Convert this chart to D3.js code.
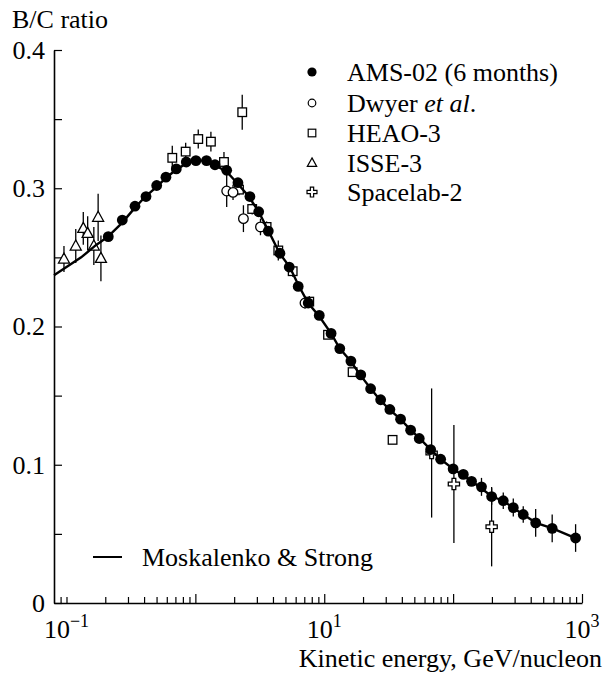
<!DOCTYPE html>
<html><head><meta charset="utf-8">
<script src="https://cdn.jsdelivr.net/npm/d3@7"></script>
<style>
body{margin:0;background:#fff;}
svg{display:block;font-family:"Liberation Serif","Times New Roman",serif;}
</style></head>
<body><svg id="c" width="607" height="673"></svg>
<script>
// AMS-02 (6 months)
const amsE = [0.211,0.271,0.340,0.414,0.501,0.591,0.711,0.850,1.01,1.22,1.42,1.75,2.14,2.65,3.10,3.68,4.53,5.35,6.28,7.51,9.15,11.3,13.2,16.1,19.2,22.9,27.4,32.3,39.1,46.8,54.6,66.9,80.0,100,120,139,166,199,245,293,350,437,587,892];
const amsV = [0.265,0.277,0.287,0.294,0.302,0.308,0.314,0.319,0.320,0.320,0.317,0.313,0.304,0.294,0.283,0.269,0.253,0.243,0.229,0.217,0.208,0.195,0.184,0.175,0.165,0.155,0.147,0.140,0.133,0.125,0.119,0.111,0.104,0.097,0.093,0.088,0.084,0.077,0.074,0.069,0.064,0.058,0.054,0.047];
const amsErr = [0,0,0,0,0,0,0,0,0,0,0,0,0,0,0,0,0,0,0,0,0,0,0,0,0,0,0,0,0,0,0,0,0,0,0,0,0.0065,0.006,0.006,0.0065,0.006,0.010,0.010,0.010];
// Dwyer et al.
const dwyE = [1.75,1.96,2.36,3.2,7.09];
const dwyV = [0.298,0.297,0.278,0.272,0.217];
const dwyErr = [0.0115,0.0055,0.0097,0.006,0.004];
// HEAO-3
const heaoE = [0.662,0.841,1.053,1.32,1.667,2.31,2.18,2.76,3.57,4.40,5.69,7.65,10.7,16.6,33.9];
const heaoV = [0.322,0.3265,0.3356,0.3337,0.319,0.355,0.299,0.285,0.272,0.255,0.240,0.218,0.194,0.167,0.118];
const heaoErr = [0.0087,0.0065,0.0069,0.0072,0.0072,0.0127,0.004,0.004,0.004,0.0072,0.004,0.004,0.003,0.003,0.003];
// ISSE-3
const isseE = [0.0956,0.118,0.135,0.146,0.163,0.176,0.185];
const isseV = [0.2488,0.2582,0.2710,0.2674,0.2582,0.2790,0.2493];
const isseErr = [0.0094,0.0123,0.0119,0.0123,0.0137,0.0171,0.0166];
// Spacelab-2
const slE = [68.1,101.4,199];
const slV = [0.1085,0.0861,0.0552];
const slErr = [0.0467,0.0427,0.0287];
// Moskalenko & Strong model
const modE = [0.08,0.1,0.13,0.17,0.21,0.27,0.34,0.41,0.5,0.6,0.7,0.85,1.0,1.2,1.4,1.75,2.1,2.6,3.1,3.7,4.5,5.4,6.3,7.5,9.2,11.3,13.2,16,19,23,27,32,39,47,55,67,80,100,120,140,165,200,245,290,350,440,590,890];
const modV = [0.237,0.243,0.250,0.259,0.265,0.275,0.286,0.294,0.301,0.308,0.313,0.318,0.320,0.320,0.317,0.312,0.304,0.294,0.283,0.269,0.253,0.243,0.230,0.217,0.207,0.195,0.184,0.175,0.165,0.155,0.147,0.140,0.133,0.125,0.119,0.111,0.104,0.097,0.092,0.088,0.083,0.077,0.074,0.069,0.064,0.058,0.054,0.047];
// axis
const xDomain = [0.08,1000];
const yDomain = [0,0.4];
const yMajor = [0,0.1,0.2,0.3,0.4];
const yMinor = [0.05,0.15,0.25,0.35];
const xLabels = [{v:0.1,b:"10",e:"\u22121"},{v:10,b:"10",e:"1"},{v:1000,b:"10",e:"3"}];
const legendItems = ["AMS-02 (6 months)","Dwyer","HEAO-3","ISSE-3","Spacelab-2"];

const svg = d3.select("#c");
const FS = 26;
const x = d3.scaleLog().domain(xDomain).range([54,582]);
const y = d3.scaleLinear().domain(yDomain).range([603,50]);

// axes
const xt = x.ticks().filter(t=>t>xDomain[0]);
const isMajor = t => Math.abs(Math.log10(t)-Math.round(Math.log10(t)))<1e-6;
const gx = svg.append("g").attr("transform","translate(0,603)")
  .call(d3.axisBottom(x).tickValues(xt).tickSizeOuter(0).tickFormat(""));
gx.selectAll(".tick line").attr("y2",d=>isMajor(d)&&d>=1?-9:-6).attr("stroke","#000").attr("stroke-width",1.2);
gx.select(".domain").attr("stroke","#000").attr("stroke-width",1.6);

const gy = svg.append("g").attr("transform","translate(54,0)")
  .call(d3.axisLeft(y).tickValues(yMajor.concat(yMinor)).tickSizeInner(-8).tickSizeOuter(0).tickPadding(9)
    .tickFormat(d=>yMajor.includes(d)?(d===0?"0":d3.format(".1f")(d)):""));
gy.selectAll(".tick line").attr("stroke","#000").attr("stroke-width",1.2);
gy.select(".domain").attr("stroke","#000").attr("stroke-width",1.6);
gy.selectAll(".tick text").attr("font-size",FS).attr("font-family","Liberation Serif").attr("fill","#000");

// x labels with superscripts
xLabels.forEach(l=>{
  const t = svg.append("text").attr("x",x(l.v)).attr("y",638).attr("text-anchor","middle")
    .attr("font-size",FS).attr("fill","#000");
  t.append("tspan").text(l.b);
  t.append("tspan").attr("font-size",18).attr("dy",-11).text(l.e);
});
svg.append("text").attr("x",602).attr("y",667).attr("text-anchor","end").attr("font-size",FS).text("Kinetic energy, GeV/nucleon");
svg.append("text").attr("x",12).attr("y",28).attr("font-size",FS).text("B/C ratio");

// error bars
function errBars(E,V,Er){
  svg.append("g").selectAll("line").data(E.map((e,i)=>({e,v:V[i],r:Er[i]})).filter(d=>d.r>0)).join("line")
    .attr("x1",d=>x(d.e)).attr("x2",d=>x(d.e)).attr("y1",d=>y(d.v-d.r)).attr("y2",d=>y(d.v+d.r))
    .attr("stroke","#000").attr("stroke-width",1.3);
}
errBars(isseE,isseV,isseErr);
errBars(heaoE,heaoV,heaoErr);
errBars(dwyE,dwyV,dwyErr);
errBars(slE,slV,slErr);
errBars(amsE,amsV,amsErr);

const crossPath = d3.symbol(d3.symbolCross, 70)();
function triPath(s){return `M0,${-s*0.6}L${s*0.55},${s*0.4}L${-s*0.55},${s*0.4}Z`;}

// open markers
svg.append("g").selectAll("path").data(isseE.map((e,i)=>[e,isseV[i]])).join("path")
  .attr("transform",d=>`translate(${x(d[0])},${y(d[1])})`).attr("d",triPath(10))
  .attr("fill","#fff").attr("stroke","#000").attr("stroke-width",1.3);
svg.append("g").selectAll("rect").data(heaoE.map((e,i)=>[e,heaoV[i]])).join("rect")
  .attr("x",d=>x(d[0])-4.3).attr("y",d=>y(d[1])-4.3).attr("width",8.6).attr("height",8.6)
  .attr("fill","#fff").attr("stroke","#000").attr("stroke-width",1.3);
svg.append("g").selectAll("circle").data(dwyE.map((e,i)=>[e,dwyV[i]])).join("circle")
  .attr("cx",d=>x(d[0])).attr("cy",d=>y(d[1])).attr("r",4.8)
  .attr("fill","#fff").attr("stroke","#000").attr("stroke-width",1.3);
svg.append("g").selectAll("path").data(slE.map((e,i)=>[e,slV[i]])).join("path")
  .attr("transform",d=>`translate(${x(d[0])},${y(d[1])})`).attr("d",crossPath)
  .attr("fill","#fff").attr("stroke","#000").attr("stroke-width",1.3);

// model line
svg.append("path").datum(modE.map((e,i)=>[e,modV[i]]))
  .attr("d",d3.line().x(d=>x(d[0])).y(d=>y(d[1])))
  .attr("fill","none").attr("stroke","#000").attr("stroke-width",2.4);

// AMS points
svg.append("g").selectAll("circle").data(amsE.map((e,i)=>[e,amsV[i]])).join("circle")
  .attr("cx",d=>x(d[0])).attr("cy",d=>y(d[1])).attr("r",5.4).attr("fill","#000");

// legend
const lx = 312, tx = 347, ly = [72,103,133,163,192];
const lg = svg.append("g");
lg.append("circle").attr("cx",lx).attr("cy",ly[0]).attr("r",4.6).attr("fill","#000");
lg.append("circle").attr("cx",lx).attr("cy",ly[1]).attr("r",3.8).attr("fill","#fff").attr("stroke","#000").attr("stroke-width",1.2);
lg.append("rect").attr("x",lx-3.8).attr("y",ly[2]-3.8).attr("width",7.6).attr("height",7.6).attr("fill","#fff").attr("stroke","#000").attr("stroke-width",1.2);
lg.append("path").attr("transform",`translate(${lx},${ly[3]})`).attr("d",triPath(8.5)).attr("fill","#fff").attr("stroke","#000").attr("stroke-width",1.2);
lg.append("path").attr("transform",`translate(${lx},${ly[4]})`).attr("d",d3.symbol(d3.symbolCross,55)()).attr("fill","#fff").attr("stroke","#000").attr("stroke-width",1.2);
legendItems.forEach((s,i)=>{
  const t = lg.append("text").attr("x",tx).attr("y",ly[i]+9).attr("font-size",FS);
  if(i===1){ t.append("tspan").text(s+" "); t.append("tspan").attr("font-style","italic").text("et al"); t.append("tspan").text("."); }
  else t.text(s);
});
svg.append("line").attr("x1",93).attr("x2",122).attr("y1",557).attr("y2",557).attr("stroke","#000").attr("stroke-width",2);
svg.append("text").attr("x",142).attr("y",566).attr("font-size",FS).text("Moskalenko & Strong");
</script></body></html>
